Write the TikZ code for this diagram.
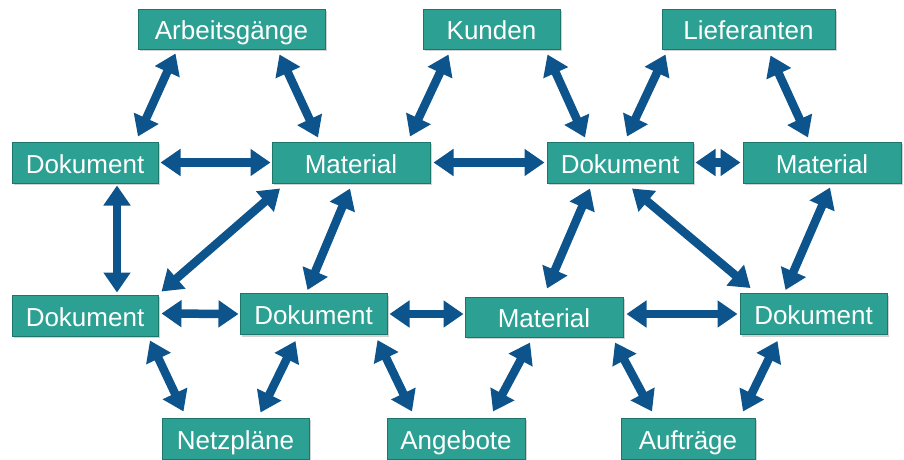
\documentclass[tikz,border=0pt]{standalone}
\usepackage{fontspec}
\setmainfont{Liberation Sans}
\usetikzlibrary{arrows.meta,calc,shadows}
\definecolor{boxteal}{RGB}{44,160,146}
\definecolor{boxedge}{RGB}{28,118,108}
\definecolor{linkblue}{RGB}{14,84,140}
\begin{document}
\begin{tikzpicture}[x=1pt,y=-1pt,
    box/.style={draw=boxedge, line width=1pt, fill=boxteal, text=white, inner sep=0pt,
        minimum height=41pt, text height=23pt, text depth=2pt,
        font=\fontsize{26}{31}\selectfont,
        drop shadow={opacity=0.35, shadow xshift=2pt, shadow yshift=-2pt}},
    link/.style={draw=linkblue, line width=8.5pt,
        {Triangle[width=26pt,length=20pt]}-{Triangle[width=26pt,length=20pt]}}]
        \useasboundingbox (0,0) rectangle (904,459);

        \node[box, minimum width=187pt, minimum height=40pt] (arb) at (231.5,29) {Arbeitsgänge};
        \node[box, minimum width=137pt, minimum height=40pt] (kun) at (491.5,29) {Kunden};
        \node[box, minimum width=173pt, minimum height=40pt] (lief) at (748.5,29) {Lieferanten};

        \node[box, minimum width=146pt] (doka) at (85,162.5) {Dokument};
        \node[box, minimum width=158pt] (mata) at (351,162.5) {Material};
        \node[box, minimum width=146pt] (dokb) at (620,162.5) {Dokument};
        \node[box, minimum width=158pt] (matb) at (822,162.5) {Material};

        \node[box, minimum width=146pt] (dokc) at (85,315.5) {Dokument};
        \node[box, minimum width=147pt] (dokd) at (313.5,314) {Dokument};
        \node[box, minimum width=158pt, minimum height=40pt] (matc) at (544,317) {Material};
        \node[box, minimum width=147pt] (doke) at (813.5,314) {Dokument};

        \node[box, minimum width=147pt] (netz) at (235.5,438.5) {Netzpläne};
        \node[box, minimum width=138pt] (ang) at (456,438.5) {Angebote};
        \node[box, minimum width=134pt] (auf) at (688,438.5) {Aufträge};

        \draw[link] ($(arb.south)+(-56,4)$) -- ($(doka.north)+(53,-5)$);
        \draw[link] ($(arb.south)+(48,5)$) -- ($(mata.north)+(-33,-4)$);
        \draw[link] ($(kun.south)+(-43,5)$) -- ($(mata.north)+(59,-5)$);
        \draw[link] ($(kun.south)+(56,5)$) -- ($(dokb.north)+(-35,-4)$);
        \draw[link] ($(lief.south)+(-83,5)$) -- ($(dokb.north)+(7,-5)$);
        \draw[link] ($(lief.south)+(22,6)$) -- ($(matb.north)+(-14,-4)$);

        \draw[link] ($(doka.east)+(2,0)$) -- ($(mata.west)+(-1,0)$);
        \draw[link] ($(mata.east)+(3,0)$) -- ($(dokb.west)+(-2,0)$);
        \draw[link] ($(dokb.east)+(2,0)$) -- ($(matb.west)+(-2,0)$);

        \draw[link] ($(doka.south)+(32,2)$) -- ($(dokc.north)+(32,-2)$);
        \draw[link] ($(mata.south)+(-71,5)$) -- ($(dokc.north east)+(3,-3)$);
        \draw[link] ($(mata.south)+(-1,5)$) -- ($(dokd.north)+(-6,-3)$);
        \draw[link] ($(dokb.south)+(-30,5)$) -- ($(matc.north)+(3,-8)$);
        \draw[link] ($(dokb.south)+(12,5)$) -- ($(doke.north)+(-63,-5)$);
        \draw[link] ($(matb.south)+(8,4)$) -- ($(doke.north)+(-28,-3)$);

        \draw[link] ($(dokc.east)+(3,-2)$) -- ($(dokd.west)+(-1,0)$);
        \draw[link] ($(dokd.east)+(2,0)$) -- ($(matc.west)+(-1,-3)$);
        \draw[link] ($(matc.east)+(3,-3)$) -- ($(doke.west)+(-2,0)$);

        \draw[link] ($(dokc.south)+(65,4)$) -- ($(netz.north)+(-52,-6)$);
        \draw[link] ($(dokd.south)+(-18,6)$) -- ($(netz.north)+(25,-5)$);
        \draw[link] ($(dokd.south)+(64,5)$) -- ($(ang.north)+(-44,-6)$);
        \draw[link] ($(matc.south)+(-14,5)$) -- ($(ang.north)+(37,-6)$);
        \draw[link] ($(matc.south)+(71,5)$) -- ($(auf.north)+(-36,-6)$);
        \draw[link] ($(doke.south)+(-36,6)$) -- ($(auf.north)+(55,-6)$);
\end{tikzpicture}
\end{document}
